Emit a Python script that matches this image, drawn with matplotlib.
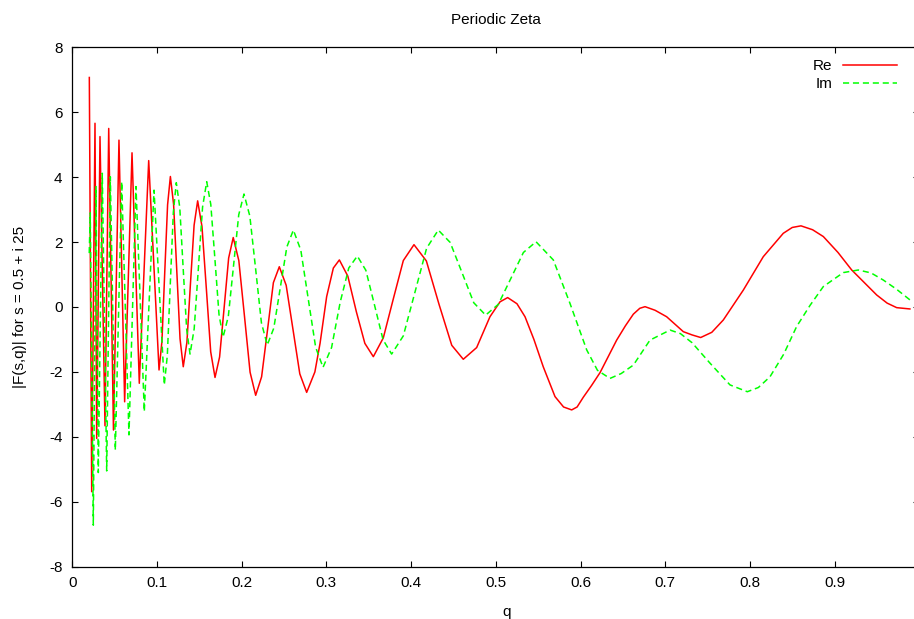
import numpy as np
from matplotlib import pyplot as plt

# values
q_re = [0.0201, 0.0229, 0.0268, 0.0288, 0.0327, 0.0386, 0.0430, 0.0486, 0.0551, 0.0618,
        0.0705, 0.0791, 0.0902, 0.1024, 0.1058, 0.1091, 0.1125, 0.1158,
        0.1196, 0.1234, 0.1272, 0.1310, 0.1353, 0.1395, 0.1438, 0.1480,
        0.1531, 0.1583, 0.1634, 0.1685, 0.1739, 0.1793, 0.1846, 0.1900,
        0.1966, 0.2033, 0.2099, 0.2165, 0.2235, 0.2305, 0.2374, 0.2444,
        0.2525, 0.2606, 0.2686, 0.2767, 0.2864, 0.2925, 0.3003, 0.3082, 0.3153,
        0.3253, 0.3354, 0.3454, 0.3554, 0.3672, 0.3790, 0.3908, 0.4034,
        0.4180, 0.4330, 0.4480, 0.4616, 0.4774, 0.4931, 0.5050, 0.5140,
        0.5250, 0.5345, 0.5450, 0.5560, 0.5699, 0.5800, 0.5896,
        0.5960, 0.6033, 0.6130, 0.6231, 0.6427, 0.6530, 0.6624, 0.6700, 0.6762,
        0.6880, 0.7017, 0.7214, 0.7317, 0.7419, 0.7550, 0.7686, 0.7922, 0.8158,
        0.8394, 0.8500, 0.8603, 0.8740, 0.8867, 0.9040, 0.9202, 0.9497, 0.9620,
        0.9733, 0.9889]
re_vals = [7.07, -5.69, 5.66, -4.05, 5.25, -3.66, 5.50, -3.79, 5.14, -2.92,
           4.75, -2.35, 4.51, -1.94, -1.07, 1.04, 3.15, 4.02,
           3.16, 1.09, -0.98, -1.84, -1.09, 0.72, 2.52, 3.27,
           2.48, 0.55, -1.38, -2.17, -1.54, -0.01, 1.51, 2.14,
           1.43, -0.29, -2.01, -2.72, -2.15, -0.70, 0.75, 1.24,
           0.67, -0.70, -2.06, -2.63, -2.00, -1.12, 0.32, 1.20, 1.45,
           0.95, -0.15, -1.12, -1.53, -0.95, 0.25, 1.43, 1.92,
           1.42, 0.08, -1.18, -1.61, -1.25, -0.30, 0.16, 0.29,
           0.10, -0.30, -1.00, -1.84, -2.76, -3.08, -3.17,
           -3.08, -2.78, -2.42, -2.02, -1.02, -0.58, -0.22, -0.04, 0.01,
           -0.10, -0.30, -0.76, -0.86, -0.94, -0.78, -0.40, 0.52, 1.55,
           2.27, 2.45, 2.50, 2.38, 2.17, 1.68, 1.14, 0.37, 0.12,
           -0.02, -0.06]

q_im = [0.0200, 0.0212, 0.0248, 0.0280, 0.0307, 0.0354, 0.0406, 0.0449, 0.0508, 0.0583,
        0.0669, 0.0752, 0.0850, 0.0965, 0.1086, 0.1122, 0.1157, 0.1193, 0.1228,
        0.1269, 0.1309, 0.1350, 0.1390, 0.1439, 0.1489, 0.1538, 0.1587,
        0.1635, 0.1684, 0.1732, 0.1780, 0.1842, 0.1904, 0.1965, 0.2027,
        0.2096, 0.2165, 0.2233, 0.2302, 0.2379, 0.2456, 0.2533, 0.2610,
        0.2698, 0.2785, 0.2873, 0.2960, 0.3061, 0.3163, 0.3264, 0.3365,
        0.3466, 0.3568, 0.3669, 0.3770, 0.3908, 0.4046, 0.4183, 0.4321,
        0.4461, 0.4601, 0.4740, 0.4880, 0.5029, 0.5178, 0.5326, 0.5475,
        0.5679, 0.5876, 0.6073, 0.6200, 0.6348, 0.6480, 0.6624, 0.6820, 0.7057,
        0.7180, 0.7317, 0.7529, 0.7765, 0.7970, 0.8100, 0.8237, 0.8400, 0.8552,
        0.8710, 0.8867, 0.9103, 0.9280, 0.9430, 0.9575, 0.9730, 0.9889]
im_vals = [1.66, 2.90, -6.72, 3.71, -5.10, 4.12, -5.05, 4.01, -4.41, 3.86,
           -3.94, 3.71, -3.22, 3.60, -2.40, -1.49, 0.72, 2.92, 3.83,
           3.06, 1.19, -0.68, -1.45, -0.67, 1.21, 3.08, 3.86,
           3.16, 1.47, -0.23, -0.93, -0.29, 1.28, 2.84, 3.48,
           2.80, 1.16, -0.49, -1.17, -0.65, 0.60, 1.85, 2.37,
           1.75, 0.26, -1.24, -1.86, -1.25, 0.15, 1.20, 1.57,
           1.13, 0.06, -1.01, -1.45, -0.89, 0.46, 1.81, 2.37,
           1.99, 1.06, 0.13, -0.25, 0.08, 0.88, 1.68, 2.01,
           1.45, 0.11, -1.32, -1.95, -2.20, -2.05, -1.79, -1.02, -0.71,
           -0.82, -1.10, -1.73, -2.40, -2.61, -2.48, -2.15, -1.45, -0.60,
           0.05, 0.63, 1.06, 1.14, 1.05, 0.83, 0.55, 0.22]

x_ticks = [0, 0.1, 0.2, 0.3, 0.4, 0.5, 0.6, 0.7, 0.8, 0.9]
x_tick_labels = ['0', '0.1', '0.2', '0.3', '0.4', '0.5', '0.6', '0.7', '0.8', '0.9']
y_ticks = [-8, -6, -4, -2, 0, 2, 4, 6, 8]

plt.rcParams['font.family'] = ['Liberation Sans', 'DejaVu Sans']
plt.rcParams['axes.unicode_minus'] = False

W, H = 914, 619
fig = plt.figure(figsize=(W / 100, H / 100), dpi=100)
# the original frame runs a little past the right edge of the picture
left, right, top, bottom = 72.3, 919.3, 47.3, 566.7
ax = fig.add_axes([left / W, 1 - bottom / H, (right - left) / W, (bottom - top) / H])

ax.plot(q_re, re_vals, color='#ff0000', lw=1.1, label='Re')
ax.plot(q_im, im_vals, color='#00ff00', lw=1.1, dashes=(4, 2.5), label='Im')

ax.set_xlim(0, 1)
ax.set_ylim(-8, 8)
ax.set_xticks(x_ticks)
ax.set_xticklabels(x_tick_labels)
ax.set_yticks(y_ticks)
ax.tick_params(direction='in', length=4.5, width=0.8, top=True, right=True,
               labelsize=11, colors='black')
ax.tick_params(axis='x', pad=7)
ax.tick_params(axis='y', pad=7)
for sp in ax.spines.values():
    sp.set_linewidth(0.9)

ax.set_title('Periodic Zeta', fontsize=11, pad=17)
ax.set_xlabel('q', fontsize=11)
ax.xaxis.set_label_coords((507 - left) / (right - left), -0.074)
ax.set_ylabel('|F(s,q)| for s = 0.5 + i 25', fontsize=11)
ax.yaxis.set_label_coords(-0.054, 0.5)

ax.legend(loc='upper right', bbox_to_anchor=((906 - left) / (right - left), 0.995),
          frameon=False, markerfirst=False, fontsize=11, handlelength=3.5,
          handletextpad=0.7, labelspacing=0.25, borderaxespad=0.2)

plt.savefig('out.png', dpi=100)
